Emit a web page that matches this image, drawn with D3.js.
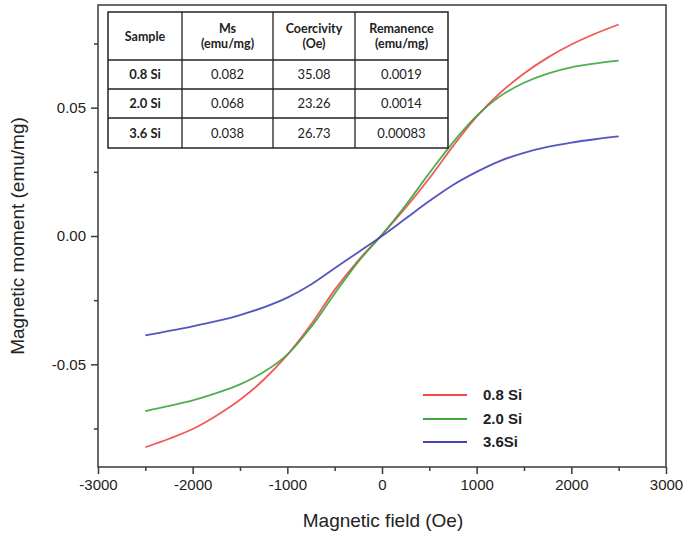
<!DOCTYPE html>
<html><head><meta charset="utf-8">
<script src="https://cdn.jsdelivr.net/npm/d3@7"></script>
<style>body{margin:0;background:#fff}svg{display:block}</style>
</head><body>
<script>
const fieldOe = [-2500,-2250,-2000,-1750,-1500,-1250,-1000,-750,-500,-250,0,250,500,750,1000,1250,1500,1750,2000,2250,2500];
const m08 = [-0.0823,-0.0790,-0.0752,-0.0700,-0.0638,-0.0560,-0.0463,-0.0345,-0.0210,-0.0095,0.0005,0.0110,0.0225,0.0350,0.0465,0.0558,0.0633,0.0695,0.0746,0.0788,0.0824];
const m20 = [-0.0682,-0.0662,-0.0640,-0.0612,-0.0578,-0.0530,-0.0462,-0.0355,-0.0225,-0.0100,0.0005,0.0120,0.0245,0.0365,0.0468,0.0545,0.0597,0.0633,0.0657,0.0672,0.0683];
const m36 = [-0.0387,-0.0370,-0.0352,-0.0332,-0.0308,-0.0278,-0.0240,-0.0189,-0.0126,-0.0063,0.0000,0.0068,0.0136,0.0199,0.0250,0.0293,0.0324,0.0347,0.0364,0.0377,0.0388];
const seriesNames = ["0.8 Si","2.0 Si","3.6Si"];
const seriesColors = ["#f04848","#3ea43e","#4343b8"];
const xTicks = [-3000,-2000,-1000,0,1000,2000,3000];
const yTicks = [-0.05,0.00,0.05];
const tableHeader = [["Sample"],["Ms","(emu/mg)"],["Coercivity","(Oe)"],["Remanence","(emu/mg)"]];
const tableSamples = ["0.8 Si","2.0 Si","3.6 Si"];
const tableMs = ["0.082","0.068","0.038"];
const tableHc = ["35.08","23.26","26.73"];
const tableMr = ["0.0019","0.0014","0.00083"];

const W=689,H=541;
const svg=d3.select("body").append("svg").attr("width",W).attr("height",H);
const x=d3.scaleLinear().domain([-3000,3000]).range([98,666]);
const y=d3.scaleLinear().domain([-0.09,0.09]).range([467,5]);
const axisColor="#3a3a3a";
const hy=f=>(v=>f(v).replace("\u2212","-"));

// curves
const series=[m08,m20,m36];
const line=d3.line().x((d,i)=>x(fieldOe[i])).y(d=>y(d)).curve(d3.curveCatmullRom.alpha(0.5));
series.forEach((s,k)=>{
  svg.append("path").attr("d",line(s)).attr("fill","none")
    .attr("stroke",seriesColors[k]).attr("stroke-width",1.8).attr("stroke-opacity",0.9);
});

// frame
svg.append("rect").attr("x",98).attr("y",5).attr("width",568).attr("height",462)
  .attr("fill","none").attr("stroke",axisColor).attr("stroke-width",1.5);

// axes
const xAxis=d3.axisBottom(x).tickValues(xTicks).tickSize(7).tickPadding(5).tickFormat(hy(d3.format("d")));
const gx=svg.append("g").attr("transform","translate(0,467)").call(xAxis);
const xMinor=d3.axisBottom(x).tickValues(d3.range(-2500,3000,1000)).tickSize(4).tickFormat("");
const gxm=svg.append("g").attr("transform","translate(0,467)").call(xMinor);
const yAxis=d3.axisLeft(y).tickValues(yTicks).tickSize(7).tickPadding(5).tickFormat(hy(d3.format(".2f")));
const gy=svg.append("g").attr("transform","translate(98,0)").call(yAxis);
const yMinor=d3.axisLeft(y).tickValues([-0.075,-0.025,0.025,0.075]).tickSize(4).tickFormat("");
const gym=svg.append("g").attr("transform","translate(98,0)").call(yMinor);
[gx,gxm,gy,gym].forEach(g=>{
  g.select(".domain").remove();
  g.selectAll("line").attr("stroke",axisColor).attr("stroke-width",1.5);
  g.selectAll("text").attr("fill","#222").style("font-family","'Liberation Sans',Arial,sans-serif").style("font-size","15px");
});

// axis titles
svg.append("text").attr("x",383).attr("y",527).attr("text-anchor","middle")
  .style("font-family","'Liberation Sans',Arial,sans-serif").style("font-size","19px").attr("fill","#222")
  .text("Magnetic field (Oe)");
svg.append("text").attr("transform","translate(24,236) rotate(-90)").attr("text-anchor","middle")
  .style("font-family","'Liberation Sans',Arial,sans-serif").style("font-size","19px").attr("fill","#222")
  .text("Magnetic moment (emu/mg)");

// legend
const legY=[395,419,442];
seriesNames.forEach((n,k)=>{
  svg.append("line").attr("x1",423).attr("x2",467).attr("y1",legY[k]).attr("y2",legY[k])
    .attr("stroke",seriesColors[k]).attr("stroke-width",1.8);
  svg.append("text").attr("x",483).attr("y",legY[k]+5).attr("fill","#222")
    .style("font-family","'Liberation Sans',Arial,sans-serif").style("font-size","15px").style("font-weight","bold")
    .text(n);
});

// table
const colX=[108,182,273,355,448];
const rowY=[12,60,89,118,148];
const tg=svg.append("g");
tg.append("rect").attr("x",colX[0]).attr("y",rowY[0]).attr("width",colX[4]-colX[0]).attr("height",rowY[4]-rowY[0])
  .attr("fill","#fff").attr("stroke","#222").attr("stroke-width",1.5);
colX.slice(1,4).forEach(cx=>tg.append("line").attr("x1",cx).attr("x2",cx).attr("y1",rowY[0]).attr("y2",rowY[4]).attr("stroke","#222").attr("stroke-width",1.3));
rowY.slice(1,4).forEach(ry=>tg.append("line").attr("x1",colX[0]).attr("x2",colX[4]).attr("y1",ry).attr("y2",ry).attr("stroke","#222").attr("stroke-width",1.3));
const tf="Lato,'Open Sans',sans-serif";
tableHeader.forEach((lines,c)=>{
  const cx=(colX[c]+colX[c+1])/2;
  const n=lines.length;
  lines.forEach((t,i)=>{
    tg.append("text").attr("x",cx).attr("y",(rowY[0]+rowY[1])/2+4.5+(i-(n-1)/2)*15)
      .attr("text-anchor","middle").style("font-family",tf).style("font-size","12.5px").style("font-weight","bold")
      .attr("fill","#222").text(t);
  });
});
const cols=[tableSamples,tableMs,tableHc,tableMr];
cols.forEach((col,c)=>{
  col.forEach((v,r)=>{
    tg.append("text").attr("x",(colX[c]+colX[c+1])/2).attr("y",(rowY[r+1]+rowY[r+2])/2+4.5)
      .attr("text-anchor","middle").style("font-family",tf).style("font-size","13px")
      .style("font-weight",c===0?"bold":"normal").attr("fill","#222").text(v);
  });
});
</script>
</body></html>
